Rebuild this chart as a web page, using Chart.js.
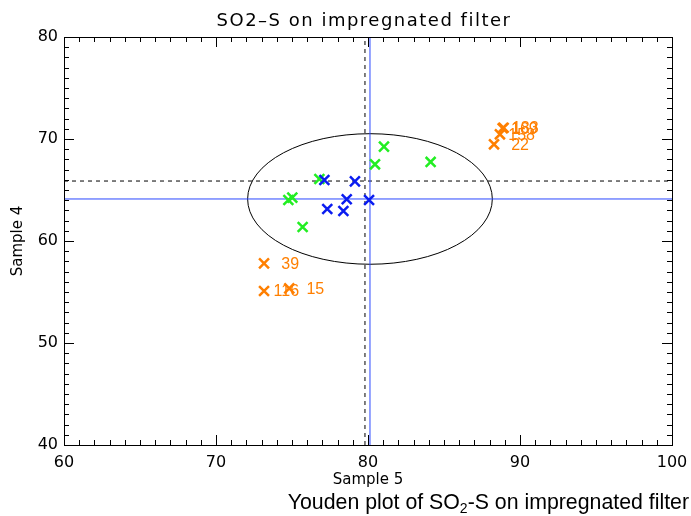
<!DOCTYPE html>
<html>
<head>
<meta charset="utf-8">
<script src="https://cdn.jsdelivr.net/npm/chart.js@4.4.1/dist/chart.umd.min.js"></script>
<style>
  html, body { margin: 0; padding: 0; background: #fff; }
</style>
</head>
<body>
<canvas id="chartYouden" width="691" height="516"></canvas>
<script>
// labs inside the limits
const greenX = [81.05, 80.46, 84.12, 76.8, 75.02, 74.76, 75.7];
const greenY = [69.25, 67.52, 67.75, 66.08, 64.25, 64.02, 61.37];

const blueX = [77.13, 79.14, 78.6, 80.07, 77.32, 78.38];
const blueY = [65.98, 65.85, 64.09, 64.02, 63.14, 62.94];

// labs outside, with their numbers
const orangeX = [88.86, 88.92, 88.68, 88.29, 73.16, 73.16, 74.82];
const orangeY = [71.05, 71.1, 70.46, 69.48, 57.81, 55.1, 55.36];
const orangeLabels = ['169', '183', '158', '22', '39', '116', '15'];

// medians (solid) and reference values (dashed)
const medianX = 80.13;
const medianY = 64.12;
const refX = 79.8;
const refY = 65.88;
const ellipseRX = 8.05;
const ellipseRY = 6.4;

const xMin = 60, xMax = 100;
const yMin = 40, yMax = 80;

function toPoints(xs, ys) {
  const pts = [];
  for (var i = 0; i < xs.length; i++) {
    pts.push({x: xs[i], y: ys[i]});
  }
  return pts;
}

const youdenPlugin = {
  id: 'youden',
  beforeDatasetsDraw(chart) {
    const {ctx, scales: {x, y}} = chart;
    const cx = x.getPixelForValue(medianX);
    const cy = y.getPixelForValue(medianY);
    const rx = Math.abs(x.getPixelForValue(medianX + ellipseRX) - cx);
    const ry = Math.abs(y.getPixelForValue(medianY + ellipseRY) - cy);
    ctx.save();
    ctx.beginPath();
    ctx.ellipse(cx, cy, rx, ry, 0, 0, Math.PI * 2);
    ctx.strokeStyle = '#000';
    ctx.lineWidth = 1;
    ctx.stroke();
    ctx.restore();
  },
  afterDraw(chart) {
    const {ctx, chartArea: a, scales: {x, y}} = chart;
    ctx.save();

    // box with inward ticks on all four sides
    ctx.strokeStyle = '#000';
    ctx.lineWidth = 1;
    ctx.strokeRect(a.left + 0.5, a.top + 0.5, a.right - a.left, a.bottom - a.top);
    ctx.beginPath();
    for (var v = xMin; v <= xMax; v++) {
      const px = Math.round(x.getPixelForValue(v)) + 0.5;
      const len = v % 10 === 0 ? 10 : 5;
      ctx.moveTo(px, a.bottom); ctx.lineTo(px, a.bottom - len);
      ctx.moveTo(px, a.top); ctx.lineTo(px, a.top + len);
    }
    for (var w = yMin; w <= yMax; w++) {
      const py = Math.round(y.getPixelForValue(w)) + 0.5;
      const len = w % 10 === 0 ? 10 : 5;
      ctx.moveTo(a.left, py); ctx.lineTo(a.left + len, py);
      ctx.moveTo(a.right, py); ctx.lineTo(a.right - len, py);
    }
    ctx.stroke();

    // lab numbers, right-aligned in a fixed field after each outlier
    const meta = chart.getDatasetMeta(2);
    ctx.fillStyle = '#ff7f00';
    ctx.font = '16px "Liberation Sans", Arial, sans-serif';
    ctx.textAlign = 'right';
    ctx.textBaseline = 'middle';
    meta.data.forEach(function (pt, i) {
      ctx.fillText(orangeLabels[i], pt.x + 35, pt.y + 1);
    });

    // title
    ctx.fillStyle = '#000';
    ctx.font = '18px "DejaVu Sans", sans-serif';
    ctx.letterSpacing = '1.5px';
    ctx.textAlign = 'center';
    ctx.fillText('SO2\u2013S on impregnated filter', 364, 21);
    ctx.letterSpacing = '0px';

    // caption with subscript
    const big = '21.3px "Liberation Sans", Arial, sans-serif';
    const small = '14px "Liberation Sans", Arial, sans-serif';
    ctx.textBaseline = 'alphabetic';
    ctx.textAlign = 'left';
    const part1 = 'Youden plot of SO';
    const part2 = '-S on impregnated filter';
    ctx.font = big;
    const w1 = ctx.measureText(part1).width;
    const w3 = ctx.measureText(part2).width;
    ctx.font = small;
    const w2 = ctx.measureText('2').width;
    const start = 689 - (w1 + w2 + w3);
    const base = 509;
    ctx.font = big;
    ctx.fillText(part1, start, base);
    ctx.font = small;
    ctx.fillText('2', start + w1, base + 4);
    ctx.font = big;
    ctx.fillText(part2, start + w1 + w2, base);

    ctx.restore();
  }
};

const markerRadius = 7;
const markerWidth = 2.5;

const ctx = document.getElementById('chartYouden').getContext('2d');

const myChart = new Chart(ctx, {
  type: 'scatter',
  data: {
    datasets: [
      {
        label: 'inside',
        data: toPoints(blueX, blueY),
        pointStyle: 'crossRot',
        radius: markerRadius,
        borderWidth: markerWidth,
        borderColor: '#0a1cf0',
        order: 0
      },
      {
        label: 'inside 2',
        data: toPoints(greenX, greenY),
        pointStyle: 'crossRot',
        radius: markerRadius,
        borderWidth: markerWidth,
        borderColor: '#22ee22',
        order: 1
      },
      {
        label: 'outside',
        data: toPoints(orangeX, orangeY),
        pointStyle: 'crossRot',
        radius: markerRadius,
        borderWidth: markerWidth,
        borderColor: '#ff7f00',
        order: 2
      },
      {
        label: 'median x',
        data: [{x: medianX, y: yMin}, {x: medianX, y: yMax}],
        showLine: true,
        radius: 0,
        borderWidth: 1,
        borderColor: '#2a46ff',
        order: 5
      },
      {
        label: 'median y',
        data: [{x: xMin, y: medianY}, {x: xMax, y: medianY}],
        showLine: true,
        radius: 0,
        borderWidth: 1,
        borderColor: '#2a46ff',
        order: 5
      },
      {
        label: 'ref x',
        data: [{x: refX, y: yMin}, {x: refX, y: yMax}],
        showLine: true,
        radius: 0,
        borderWidth: 1,
        borderDash: [4, 4],
        borderColor: '#000',
        order: 6
      },
      {
        label: 'ref y',
        data: [{x: xMin, y: refY}, {x: xMax, y: refY}],
        showLine: true,
        radius: 0,
        borderWidth: 1,
        borderDash: [4, 4],
        borderColor: '#000',
        order: 6
      }
    ]
  },
  plugins: [youdenPlugin],
  options: {
    responsive: false,
    animation: false,
    layout: {
      padding: {top: 37, right: 19, left: 0, bottom: 0}
    },
    plugins: {
      legend: {display: false},
      tooltip: {enabled: false}
    },
    scales: {
      x: {
        type: 'linear',
        min: xMin,
        max: xMax,
        grid: {display: false, drawTicks: false, tickLength: 0},
        border: {display: false},
        ticks: {
          stepSize: 10,
          padding: 8,
          color: '#000',
          font: {family: 'DejaVu Sans', size: 16}
        },
        title: {
          display: true,
          text: 'Sample 5',
          color: '#000',
          font: {family: 'DejaVu Sans', size: 15},
          padding: {top: 0, bottom: 27}
        },
        afterFit: function (scale) {
          scale.height = 71;
          scale.paddingLeft = 0;
          scale.paddingRight = 0;
        }
      },
      y: {
        type: 'linear',
        min: yMin,
        max: yMax,
        grid: {display: false, drawTicks: false, tickLength: 0},
        border: {display: false},
        ticks: {
          stepSize: 10,
          padding: 6,
          color: '#000',
          font: {family: 'DejaVu Sans', size: 16}
        },
        title: {
          display: true,
          text: 'Sample 4',
          color: '#000',
          font: {family: 'DejaVu Sans', size: 15},
          padding: {top: 9, bottom: 0}
        },
        afterFit: function (scale) {
          scale.width = 64;
          scale.paddingTop = 0;
          scale.paddingBottom = 0;
        }
      }
    }
  }
});
</script>
</body>
</html>
